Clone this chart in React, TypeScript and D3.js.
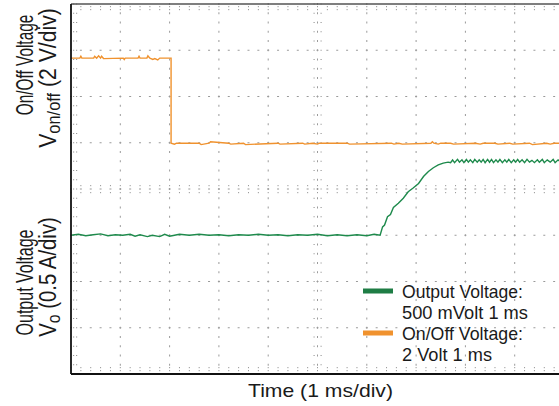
import React from "react";
import * as d3 from "d3";

// ---- data (time in ms = divisions, level in divisions from bottom) ----
const onOffTrace: [number, number][] = [
  [0, 6.83], [0.18, 6.83], [0.2, 6.87], [0.22, 6.83], [0.46, 6.83], [0.48, 6.87], [0.52, 6.83],
  [0.56, 6.88], [0.6, 6.83], [0.62, 6.87], [0.66, 6.82], [1.06, 6.83], [1.08, 6.8], [1.1, 6.83],
  [1.36, 6.83], [1.38, 6.87], [1.4, 6.83], [1.54, 6.83], [1.56, 6.88], [1.6, 6.83], [1.66, 6.8],
  [1.7, 6.82], [1.76, 6.79], [1.8, 6.83], [2.03, 6.83], [2.03, 4.99], [2.1, 4.97], [2.14, 4.99],
  [2.6, 4.99], [2.64, 4.96], [2.8, 4.99], [2.83, 5.02], [3.2, 4.99], [3.24, 4.97], [3.5, 4.99],
  [3.54, 4.96], [4.2, 4.99], [4.24, 4.97], [4.7, 4.99], [4.74, 4.97], [4.9, 4.99], [5.0, 4.97],
  [5.04, 4.99], [5.6, 4.99], [5.65, 4.97], [6.5, 4.99], [6.55, 4.97], [6.65, 4.99], [6.72, 4.97],
  [7.3, 4.99], [7.33, 5.02], [7.36, 4.99], [7.45, 4.97], [7.5, 4.99], [7.7, 4.99], [7.76, 4.97],
  [8.2, 4.99], [8.3, 4.97], [8.36, 4.99], [8.6, 4.99], [8.66, 4.97], [8.9, 4.99], [8.96, 4.97],
  [9.3, 4.99], [9.36, 4.96], [9.65, 4.99], [9.72, 4.97], [9.8, 4.99], [10, 4.99],
];

const outputTrace: [number, number][] = [
  [0, 3.0], [0.15, 3.02], [0.3, 2.99], [0.45, 3.01], [0.6, 3.03], [0.75, 2.99], [0.9, 3.01],
  [1.05, 3.0], [1.2, 3.02], [1.3, 2.98], [1.4, 3.01], [1.55, 2.97], [1.65, 3.0], [1.8, 2.97],
  [1.9, 3.02], [2.0, 2.98], [2.1, 3.0], [2.2, 3.02], [2.4, 3.0], [2.6, 3.02], [2.8, 3.0],
  [3.0, 3.01], [3.2, 2.99], [3.4, 3.01], [3.6, 3.0], [3.8, 3.02], [4.0, 3.0], [4.2, 3.01],
  [4.4, 2.99], [4.6, 3.01], [4.8, 3.0], [5.0, 3.02], [5.2, 2.99], [5.4, 3.01], [5.6, 2.99],
  [5.8, 3.01], [6.0, 2.99], [6.15, 3.02], [6.27, 3.0],
  [6.32, 3.18], [6.36, 3.22], [6.42, 3.4], [6.48, 3.45], [6.54, 3.6], [6.64, 3.69], [6.74, 3.8],
  [6.84, 3.94], [6.94, 4.02], [7.05, 4.12], [7.15, 4.27], [7.25, 4.38], [7.35, 4.46], [7.45, 4.52],
  [7.55, 4.56], [7.65, 4.58],
  [7.7, 4.57], [7.74, 4.63], [7.78, 4.57], [7.84, 4.64], [7.88, 4.58], [7.93, 4.63], [7.97, 4.57],
  [8.02, 4.64], [8.06, 4.58], [8.1, 4.63], [8.15, 4.57], [8.19, 4.64], [8.24, 4.58], [8.28, 4.63],
  [8.32, 4.58], [8.36, 4.64], [8.4, 4.57], [8.45, 4.64], [8.49, 4.58], [8.53, 4.64], [8.57, 4.57],
  [8.62, 4.63], [8.66, 4.58], [8.7, 4.64], [8.75, 4.57], [8.8, 4.63], [8.84, 4.58], [8.88, 4.64],
  [8.93, 4.57], [8.98, 4.63], [9.02, 4.58], [9.06, 4.64], [9.1, 4.58], [9.15, 4.63], [9.2, 4.57],
  [9.25, 4.64], [9.3, 4.58], [9.35, 4.62], [9.4, 4.57], [9.46, 4.63], [9.5, 4.58], [9.56, 4.64],
  [9.6, 4.57], [9.66, 4.63], [9.72, 4.58], [9.78, 4.64], [9.82, 4.57], [9.88, 4.63], [9.94, 4.58],
  [10, 4.62],
];

const legendLines = [
  { name: "Output Voltage:", detail: "500 mVolt 1 ms", color: "#1e7d45" },
  { name: "On/Off Voltage:", detail: "2 Volt 1 ms", color: "#f0922e" },
];

const xDivisions = 10;
const yDivisions = 8;

const W = 559;
const H = 406;
const L = 71, R = 564, T = 4, B = 374;

const FONT = "'Liberation Sans', Arial, sans-serif";
const TXT = "#1a1a1a";

export default function App() {
  const x = d3.scaleLinear().domain([0, xDivisions]).range([L, R]);
  const y = d3.scaleLinear().domain([0, yDivisions]).range([B, T]);
  const line = d3.line<[number, number]>().x((d) => x(d[0])).y((d) => y(d[1]));

  const majorX = d3.range(1, xDivisions);
  const majorY = d3.range(1, yDivisions);
  const minorX = d3.range(0, xDivisions * 5 + 1).map((i) => i / 5);
  const minorY = d3.range(0, yDivisions * 5 + 1).map((i) => i / 5);
  const dot = "#9a9a9a";

  const dots: JSX.Element[] = [];
  majorY.forEach((v) => {
    minorX.forEach((t, i) => {
      dots.push(<rect key={`hy${v}-${i}`} x={x(t) - 1} y={y(v) - 0.5} width={2} height={1} fill={dot} />);
    });
  });
  majorX.forEach((t) => {
    minorY.forEach((v, i) => {
      dots.push(<rect key={`vx${t}-${i}`} x={x(t) - 0.5} y={y(v) - 1} width={1} height={2} fill={dot} />);
    });
  });
  minorX.forEach((t, i) => {
    [y(4) - 4, y(4) + 3, T + 2, T + 5, B - 4, B - 7].forEach((yy, j) =>
      dots.push(<rect key={`cx${i}-${j}`} x={x(t) - 0.5} y={yy} width={1} height={1.2} fill={dot} />)
    );
  });
  minorY.forEach((v, i) => {
    [x(5) - 4, x(5) + 3, L + 2, L + 5].forEach((xx, j) =>
      dots.push(<rect key={`cy${i}-${j}`} x={xx} y={y(v) - 0.5} width={1.2} height={1} fill={dot} />)
    );
  });

  const yTitle = (tx: number, ty: number, sx: number, content: React.ReactNode) => (
    <text transform={`translate(${tx},${ty}) rotate(-90) scale(${sx},1)`} textAnchor="middle"
      fontFamily={FONT} fontSize={24.5} fill={TXT}>{content}</text>
  );

  return (
    <svg width={W} height={H} style={{ position: "absolute", left: 0, top: 0, background: "#fff" }}>
      <g>{dots}</g>
      <path d={line(onOffTrace) ?? ""} fill="none" stroke="#f0922e" strokeWidth={1.4} />
      <path d={line(outputTrace) ?? ""} fill="none" stroke="#1e8a4c" strokeWidth={1.4} />
      <line x1={L} x2={R} y1={T} y2={T} stroke="#555" strokeWidth={1.6} />
      <line x1={L} x2={R} y1={B} y2={B} stroke="#111" strokeWidth={1.8} />
      <line x1={L} x2={L} y1={T} y2={B} stroke="#111" strokeWidth={1.8} />

      {legendLines.map((d, i) => {
        const top = 291 + i * 42;
        return (
          <g key={d.name}>
            <rect x={363} y={top - 2.5} width={30} height={5} fill={d.color} />
            <text x={402} y={top + 6.5} fontFamily={FONT} fontSize={18.5} fill={TXT}
              textLength={121} lengthAdjust="spacingAndGlyphs">{d.name}</text>
            <text x={402} y={top + 27.5} fontFamily={FONT} fontSize={18.5} fill={TXT}
              textLength={i === 0 ? 126 : 90} lengthAdjust="spacingAndGlyphs">{d.detail}</text>
          </g>
        );
      })}

      <text x={320.5} y={397} textAnchor="middle" fontFamily={FONT} fontSize={18.5} fill={TXT}
        textLength={145} lengthAdjust="spacingAndGlyphs">Time (1 ms/div)</text>

      {yTitle(33, 65, 0.628, "On/Off Voltage")}
      {yTitle(55.5, 78, 0.865, <>V<tspan fontSize={19} dy={4.5}>on/off</tspan><tspan dy={-4.5}> (2 V/div)</tspan></>)}
      {yTitle(33, 282.5, 0.654, "Output Voltage")}
      {yTitle(55.5, 277, 0.832, <>V<tspan fontSize={19} dy={4.5}>o</tspan><tspan dy={-4.5}> (0.5 A/div)</tspan></>)}
    </svg>
  );
}
